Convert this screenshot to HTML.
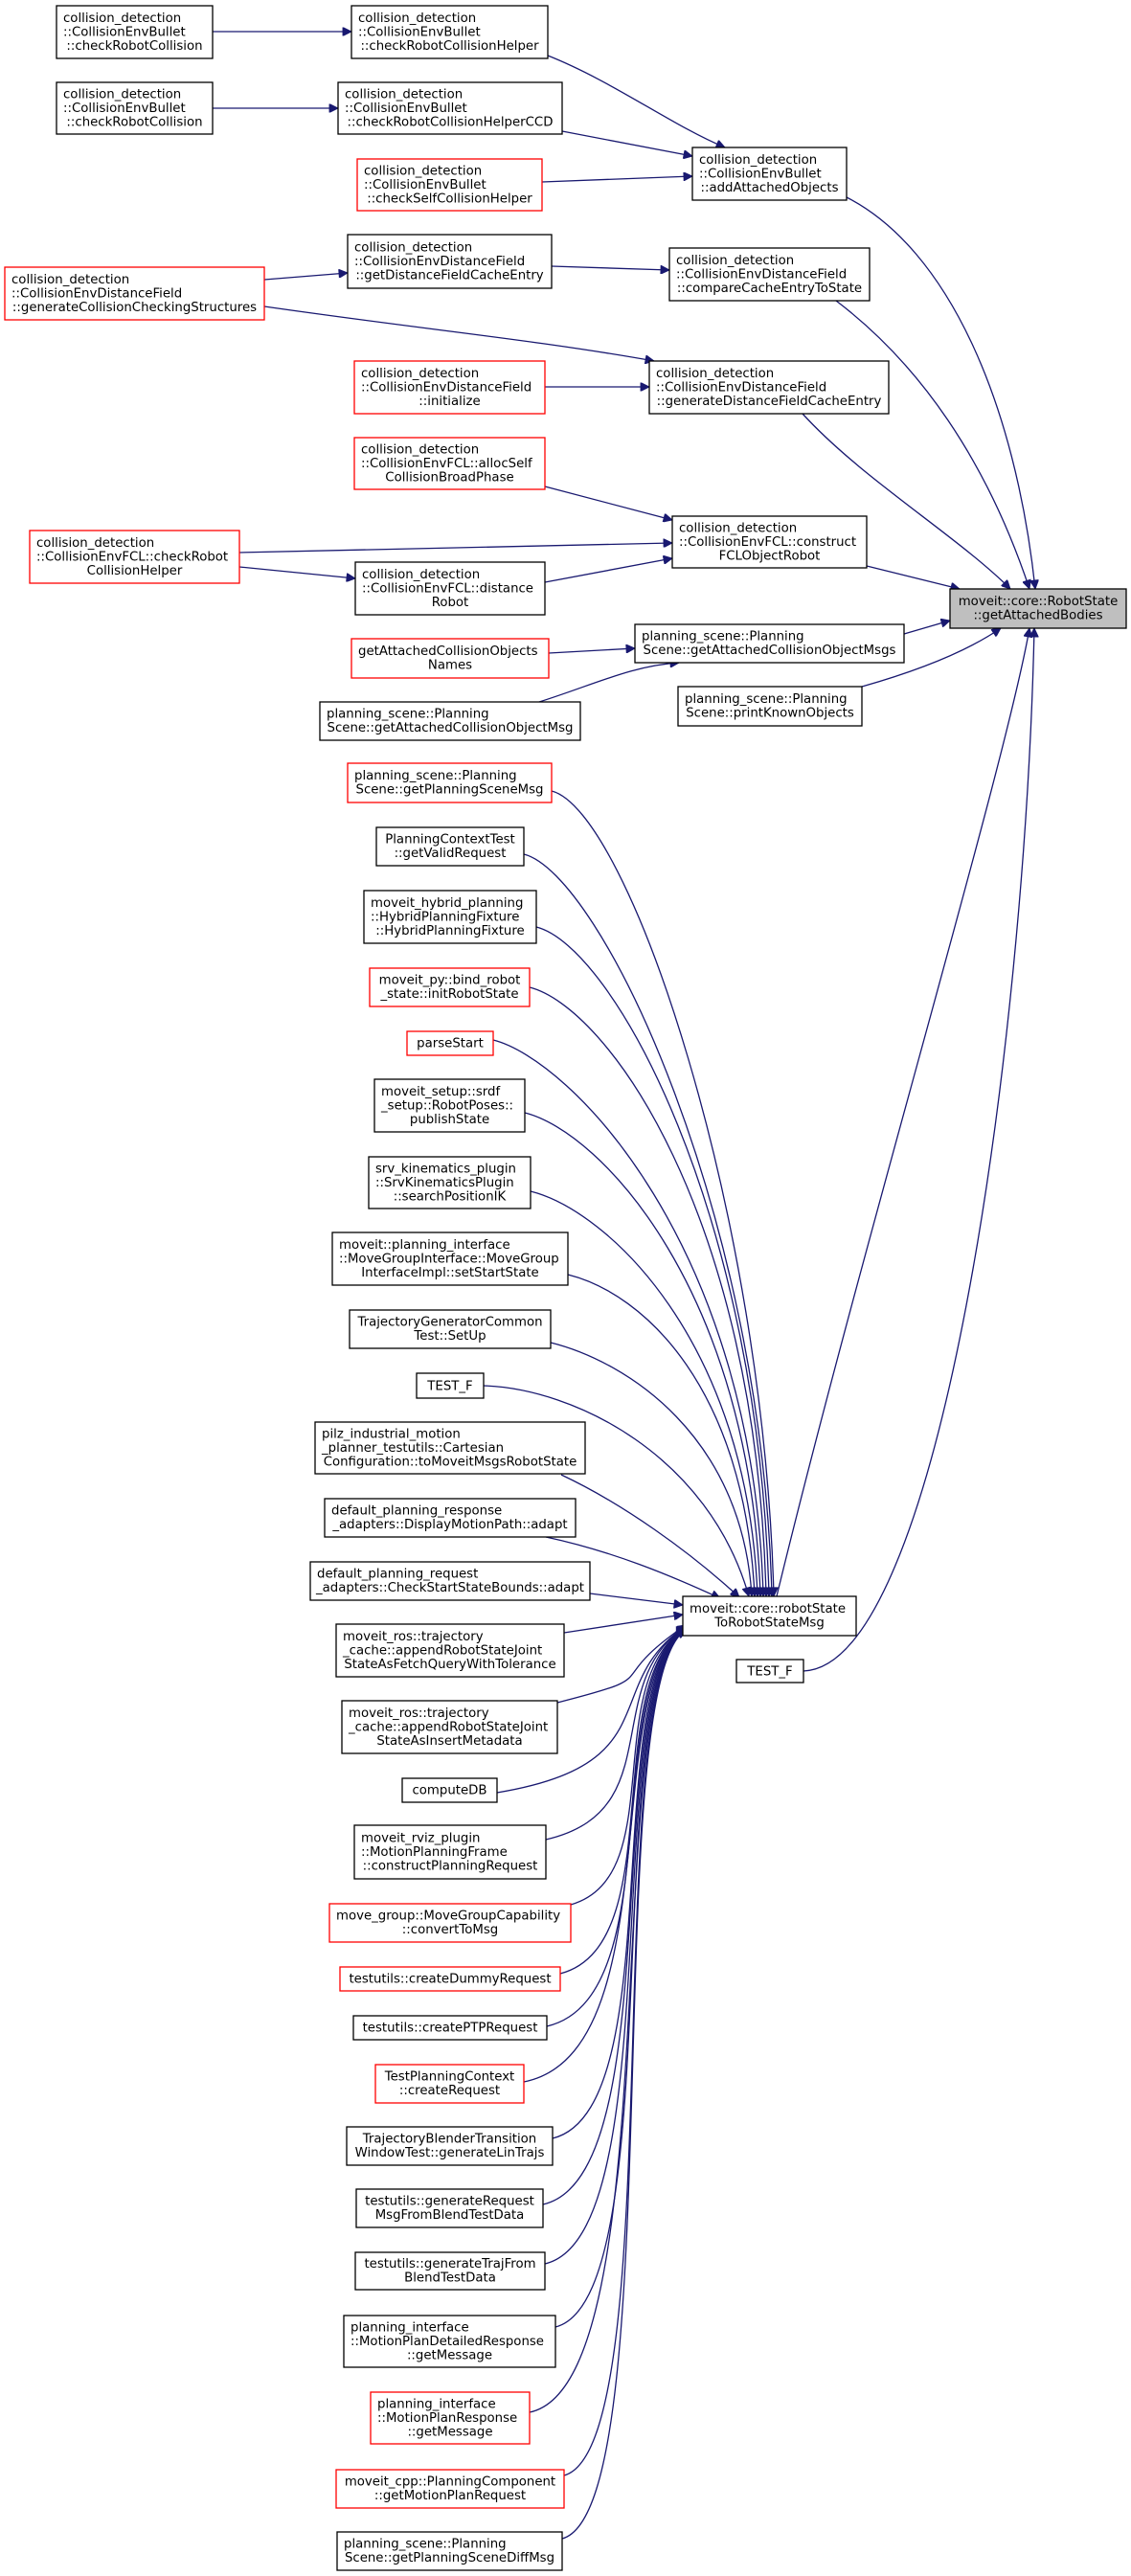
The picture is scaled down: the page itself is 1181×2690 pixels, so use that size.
<!DOCTYPE html>
<html><head><meta charset="utf-8"><style>
html,body{margin:0;padding:0;background:#fff}
svg{display:block}
text{font-family:"DejaVu Sans","Liberation Sans",sans-serif;font-size:13.3px;fill:#000}
.k{fill:#fff;stroke:#000;stroke-width:1.3}
.r{fill:#fff;stroke:#ff0000;stroke-width:1.3}
.g{fill:#bfbfbf;stroke:#000;stroke-width:1.3}
path.e{fill:none;stroke:#191970;stroke-width:1.3;marker-end:url(#a)}
</style></head><body>
<svg width="1181" height="2690" viewBox="0 0 1181 2690" xmlns="http://www.w3.org/2000/svg">
<defs><marker id="a" viewBox="0 0 10 10" refX="10" refY="5" markerWidth="12" markerHeight="9" markerUnits="userSpaceOnUse" orient="auto"><path d="M0,0L10,5L0,10z" fill="#191970" stroke="#191970"/></marker></defs>

<!-- edges -->
<path class="e" d="M222,33 L367,33"/>
<path class="e" d="M222,113 L353,113"/>
<path class="e" d="M572,58 C640,85 700,130 757,154"/>
<path class="e" d="M587,137 L723,163"/>
<path class="e" d="M566,190 L723,184"/>
<path class="e" d="M884,206 C990,260 1060,420 1081,615"/>
<path class="e" d="M276,292 L363,285"/>
<path class="e" d="M276,320 C450,345 560,355 683,377"/>
<path class="e" d="M576,278 L699,282"/>
<path class="e" d="M873,314 C960,380 1030,480 1075,615"/>
<path class="e" d="M569,404 L678,404"/>
<path class="e" d="M838,432 C900,500 1000,560 1055,615"/>
<path class="e" d="M569,508 L702,543"/>
<path class="e" d="M250,577 L702,567"/>
<path class="e" d="M250,592 L371,604"/>
<path class="e" d="M569,608 L702,583"/>
<path class="e" d="M905,591 L1002,615"/>
<path class="e" d="M944,662 L992,648"/>
<path class="e" d="M573,682 L663,677"/>
<path class="e" d="M563,733 C620,715 660,695 709,692"/>
<path class="e" d="M900,717 C960,700 1010,680 1045,656"/>
<path class="e" d="M811,1667 C900,1300 1050,800 1075,656"/>
<path class="e" d="M839,1745 C980,1740 1070,1100 1080,656"/>

<path class="e" d="M576,826 C656,846 798,1267 808,1667"/>
<path class="e" d="M547,892 C627,912 796,1267 806,1667"/>
<path class="e" d="M560,968 C640,988 793,1267 803,1667"/>
<path class="e" d="M553,1031 C633,1051 790,1267 800,1667"/>
<path class="e" d="M515,1086 C595,1106 787,1300 797,1667"/>
<path class="e" d="M548,1162 C628,1182 784,1350 794,1667"/>
<path class="e" d="M554,1244 C634,1264 781,1400 791,1667"/>
<path class="e" d="M593,1331 C673,1351 778,1450 788,1667"/>
<path class="e" d="M575,1402 C655,1422 775,1500 785,1667"/>
<path class="e" d="M505,1447 C600,1450 740,1520 782,1667"/>
<path class="e" d="M586,1540 C650,1570 720,1620 772,1668"/>
<path class="e" d="M570,1605 C640,1620 700,1645 752,1669"/>
<path class="e" d="M616,1664 L713,1676"/>
<path class="e" d="M589,1705 L713,1686"/>

<path class="e" d="M582,1778 C700,1748 625,1760 716,1697"/>
<path class="e" d="M519,1872 C700,1842 625,1760 716,1698"/>
<path class="e" d="M570,1921 C700,1891 625,1760 716,1698"/>
<path class="e" d="M596,1989 C700,1959 625,1760 716,1699"/>
<path class="e" d="M585,2061 C700,2031 625,1760 716,1699"/>
<path class="e" d="M571,2116 C700,2086 625,1760 716,1699"/>
<path class="e" d="M547,2174 C700,2144 625,1760 716,1700"/>
<path class="e" d="M577,2233 C700,2203 625,1760 716,1700"/>
<path class="e" d="M567,2302 C700,2272 625,1760 716,1700"/>
<path class="e" d="M569,2364 C700,2334 625,1760 716,1701"/>
<path class="e" d="M580,2430 C700,2400 625,1760 716,1701"/>
<path class="e" d="M553,2519 C700,2489 625,1760 716,1701"/>
<path class="e" d="M589,2585 C700,2555 625,1760 716,1702"/>
<path class="e" d="M587,2651 C700,2621 625,1760 716,1702"/>

<!-- nodes -->
<rect class="k" x="59" y="6" width="163" height="55"/>
<text x="66" y="23">collision_detection</text><text x="66" y="37.6">::CollisionEnvBullet</text><text x="140.5" y="52.2" text-anchor="middle">::checkRobotCollision</text>

<rect class="k" x="367" y="6" width="205" height="55"/>
<text x="374" y="23">collision_detection</text><text x="374" y="37.6">::CollisionEnvBullet</text><text x="469.5" y="52.2" text-anchor="middle">::checkRobotCollisionHelper</text>

<rect class="k" x="59" y="86" width="163" height="54"/>
<text x="66" y="102.5">collision_detection</text><text x="66" y="117.1">::CollisionEnvBullet</text><text x="140.5" y="131.7" text-anchor="middle">::checkRobotCollision</text>

<rect class="k" x="353" y="86" width="234" height="54"/>
<text x="360" y="102.5">collision_detection</text><text x="360" y="117.1">::CollisionEnvBullet</text><text x="470" y="131.7" text-anchor="middle">::checkRobotCollisionHelperCCD</text>

<rect class="r" x="373" y="166" width="193" height="54"/>
<text x="380" y="182.5">collision_detection</text><text x="380" y="197.1">::CollisionEnvBullet</text><text x="469.5" y="211.7" text-anchor="middle">::checkSelfCollisionHelper</text>

<rect class="k" x="723" y="154" width="161" height="55"/>
<text x="730" y="171">collision_detection</text><text x="730" y="185.6">::CollisionEnvBullet</text><text x="803.5" y="200.2" text-anchor="middle">::addAttachedObjects</text>

<rect class="r" x="5" y="279" width="271" height="55"/>
<text x="12" y="296">collision_detection</text><text x="12" y="310.6">::CollisionEnvDistanceField</text><text x="140.5" y="325.2" text-anchor="middle">::generateCollisionCheckingStructures</text>

<rect class="k" x="363" y="245" width="213" height="56"/>
<text x="370" y="262.5">collision_detection</text><text x="370" y="277.1">::CollisionEnvDistanceField</text><text x="469.5" y="291.7" text-anchor="middle">::getDistanceFieldCacheEntry</text>

<rect class="k" x="699" y="259" width="209" height="55"/>
<text x="706" y="276">collision_detection</text><text x="706" y="290.6">::CollisionEnvDistanceField</text><text x="803.5" y="305.2" text-anchor="middle">::compareCacheEntryToState</text>

<rect class="r" x="370" y="377" width="199" height="55"/>
<text x="377" y="394">collision_detection</text><text x="377" y="408.6">::CollisionEnvDistanceField</text><text x="469.5" y="423.2" text-anchor="middle">::initialize</text>

<rect class="k" x="678" y="377" width="250" height="55"/>
<text x="685" y="394">collision_detection</text><text x="685" y="408.6">::CollisionEnvDistanceField</text><text x="803" y="423.2" text-anchor="middle">::generateDistanceFieldCacheEntry</text>

<rect class="r" x="370" y="457" width="199" height="54"/>
<text x="377" y="473.5">collision_detection</text><text x="377" y="488.1">::CollisionEnvFCL::allocSelf</text><text x="469.5" y="502.7" text-anchor="middle">CollisionBroadPhase</text>

<rect class="r" x="31" y="554" width="219" height="55"/>
<text x="38" y="571">collision_detection</text><text x="38" y="585.6">::CollisionEnvFCL::checkRobot</text><text x="140.5" y="600.2" text-anchor="middle">CollisionHelper</text>

<rect class="k" x="702" y="539" width="203" height="54"/>
<text x="709" y="555.5">collision_detection</text><text x="709" y="570.1">::CollisionEnvFCL::construct</text><text x="803.5" y="584.7" text-anchor="middle">FCLObjectRobot</text>

<rect class="k" x="371" y="587" width="198" height="55"/>
<text x="378" y="604">collision_detection</text><text x="378" y="618.6">::CollisionEnvFCL::distance</text><text x="470" y="633.2" text-anchor="middle">Robot</text>

<rect class="g" x="992" y="615" width="184" height="41"/>
<text x="1084" y="632" text-anchor="middle">moveit::core::RobotState</text><text x="1084" y="646.6" text-anchor="middle">::getAttachedBodies</text>

<rect class="k" x="663" y="652" width="281" height="40"/>
<text x="670" y="668.5">planning_scene::Planning</text><text x="803.5" y="683.1" text-anchor="middle">Scene::getAttachedCollisionObjectMsgs</text>

<rect class="r" x="367" y="667" width="206" height="41"/>
<text x="374" y="684">getAttachedCollisionObjects</text><text x="470" y="698.6" text-anchor="middle">Names</text>

<rect class="k" x="708" y="717" width="192" height="41"/>
<text x="715" y="734">planning_scene::Planning</text><text x="804" y="748.6" text-anchor="middle">Scene::printKnownObjects</text>

<rect class="k" x="334" y="733" width="272" height="40"/>
<text x="341" y="749.5">planning_scene::Planning</text><text x="470" y="764.1" text-anchor="middle">Scene::getAttachedCollisionObjectMsg</text>

<rect class="r" x="363" y="797" width="213" height="41"/>
<text x="370" y="814">planning_scene::Planning</text><text x="469.5" y="828.6" text-anchor="middle">Scene::getPlanningSceneMsg</text>

<rect class="k" x="393" y="864" width="154" height="40"/>
<text x="470" y="880.5" text-anchor="middle">PlanningContextTest</text><text x="470" y="895.1" text-anchor="middle">::getValidRequest</text>

<rect class="k" x="380" y="930" width="180" height="55"/>
<text x="387" y="947">moveit_hybrid_planning</text><text x="387" y="961.6">::HybridPlanningFixture</text><text x="470" y="976.2" text-anchor="middle">::HybridPlanningFixture</text>

<rect class="r" x="386" y="1011" width="167" height="40"/>
<text x="469.5" y="1027.5" text-anchor="middle">moveit_py::bind_robot</text><text x="469.5" y="1042.1" text-anchor="middle">_state::initRobotState</text>

<rect class="r" x="425" y="1077" width="90" height="25"/>
<text x="470" y="1093.7" text-anchor="middle">parseStart</text>

<rect class="k" x="391" y="1127" width="157" height="55"/>
<text x="398" y="1144">moveit_setup::srdf</text><text x="398" y="1158.6">_setup::RobotPoses::</text><text x="469.5" y="1173.2" text-anchor="middle">publishState</text>

<rect class="k" x="385" y="1208" width="169" height="54"/>
<text x="392" y="1224.5">srv_kinematics_plugin</text><text x="392" y="1239.1">::SrvKinematicsPlugin</text><text x="469.5" y="1253.7" text-anchor="middle">::searchPositionIK</text>

<rect class="k" x="347" y="1287" width="246" height="55"/>
<text x="354" y="1304">moveit::planning_interface</text><text x="354" y="1318.6">::MoveGroupInterface::MoveGroup</text><text x="470" y="1333.2" text-anchor="middle">InterfaceImpl::setStartState</text>

<rect class="k" x="365" y="1368" width="210" height="40"/>
<text x="470" y="1384.5" text-anchor="middle">TrajectoryGeneratorCommon</text><text x="470" y="1399.1" text-anchor="middle">Test::SetUp</text>

<rect class="k" x="435" y="1434" width="70" height="26"/>
<text x="470" y="1451.5" text-anchor="middle">TEST_F</text>

<rect class="k" x="329" y="1485" width="282" height="54"/>
<text x="336" y="1501.5">pilz_industrial_motion</text><text x="336" y="1516.1">_planner_testutils::Cartesian</text><text x="470" y="1530.7" text-anchor="middle">Configuration::toMoveitMsgsRobotState</text>

<rect class="k" x="339" y="1565" width="262" height="40"/>
<text x="346" y="1581.5">default_planning_response</text><text x="470" y="1596.1" text-anchor="middle">_adapters::DisplayMotionPath::adapt</text>

<rect class="k" x="324" y="1631" width="292" height="40"/>
<text x="331" y="1647.5">default_planning_request</text><text x="470" y="1662.1" text-anchor="middle">_adapters::CheckStartStateBounds::adapt</text>

<rect class="k" x="713" y="1667" width="181" height="41"/>
<text x="720" y="1684">moveit::core::robotState</text><text x="803.5" y="1698.6" text-anchor="middle">ToRobotStateMsg</text>

<rect class="k" x="351" y="1696" width="238" height="55"/>
<text x="358" y="1713">moveit_ros::trajectory</text><text x="358" y="1727.6">_cache::appendRobotStateJoint</text><text x="470" y="1742.2" text-anchor="middle">StateAsFetchQueryWithTolerance</text>

<rect class="k" x="769" y="1733" width="70" height="24"/>
<text x="804" y="1749.5" text-anchor="middle">TEST_F</text>

<rect class="k" x="357" y="1776" width="225" height="55"/>
<text x="364" y="1793">moveit_ros::trajectory</text><text x="364" y="1807.6">_cache::appendRobotStateJoint</text><text x="469.5" y="1822.2" text-anchor="middle">StateAsInsertMetadata</text>

<rect class="k" x="420" y="1857" width="99" height="25"/>
<text x="469.5" y="1873.7" text-anchor="middle">computeDB</text>

<rect class="k" x="370" y="1906" width="200" height="56"/>
<text x="377" y="1923.5">moveit_rviz_plugin</text><text x="377" y="1938.1">::MotionPlanningFrame</text><text x="470" y="1952.7" text-anchor="middle">::constructPlanningRequest</text>

<rect class="r" x="344" y="1988" width="252" height="40"/>
<text x="351" y="2004.5">move_group::MoveGroupCapability</text><text x="470" y="2019.1" text-anchor="middle">::convertToMsg</text>

<rect class="r" x="355" y="2054" width="230" height="25"/>
<text x="470" y="2070.7" text-anchor="middle">testutils::createDummyRequest</text>

<rect class="k" x="369" y="2105" width="202" height="25"/>
<text x="470" y="2121.7" text-anchor="middle">testutils::createPTPRequest</text>

<rect class="r" x="392" y="2156" width="155" height="40"/>
<text x="469.5" y="2172.5" text-anchor="middle">TestPlanningContext</text><text x="469.5" y="2187.1" text-anchor="middle">::createRequest</text>

<rect class="k" x="362" y="2221" width="215" height="40"/>
<text x="469.5" y="2237.5" text-anchor="middle">TrajectoryBlenderTransition</text><text x="469.5" y="2252.1" text-anchor="middle">WindowTest::generateLinTrajs</text>

<rect class="k" x="372" y="2286" width="195" height="40"/>
<text x="469.5" y="2302.5" text-anchor="middle">testutils::generateRequest</text><text x="469.5" y="2317.1" text-anchor="middle">MsgFromBlendTestData</text>

<rect class="k" x="371" y="2352" width="198" height="39"/>
<text x="470" y="2368" text-anchor="middle">testutils::generateTrajFrom</text><text x="470" y="2382.6" text-anchor="middle">BlendTestData</text>

<rect class="k" x="359" y="2418" width="221" height="54"/>
<text x="366" y="2434.5">planning_interface</text><text x="366" y="2449.1">::MotionPlanDetailedResponse</text><text x="469.5" y="2463.7" text-anchor="middle">::getMessage</text>

<rect class="r" x="387" y="2498" width="166" height="54"/>
<text x="394" y="2514.5">planning_interface</text><text x="394" y="2529.1">::MotionPlanResponse</text><text x="470" y="2543.7" text-anchor="middle">::getMessage</text>

<rect class="r" x="351" y="2579" width="238" height="40"/>
<text x="470" y="2595.5" text-anchor="middle">moveit_cpp::PlanningComponent</text><text x="470" y="2610.1" text-anchor="middle">::getMotionPlanRequest</text>

<rect class="k" x="352" y="2644" width="235" height="40"/>
<text x="359" y="2660.5">planning_scene::Planning</text><text x="469.5" y="2675.1" text-anchor="middle">Scene::getPlanningSceneDiffMsg</text>
</svg>
</body></html>
